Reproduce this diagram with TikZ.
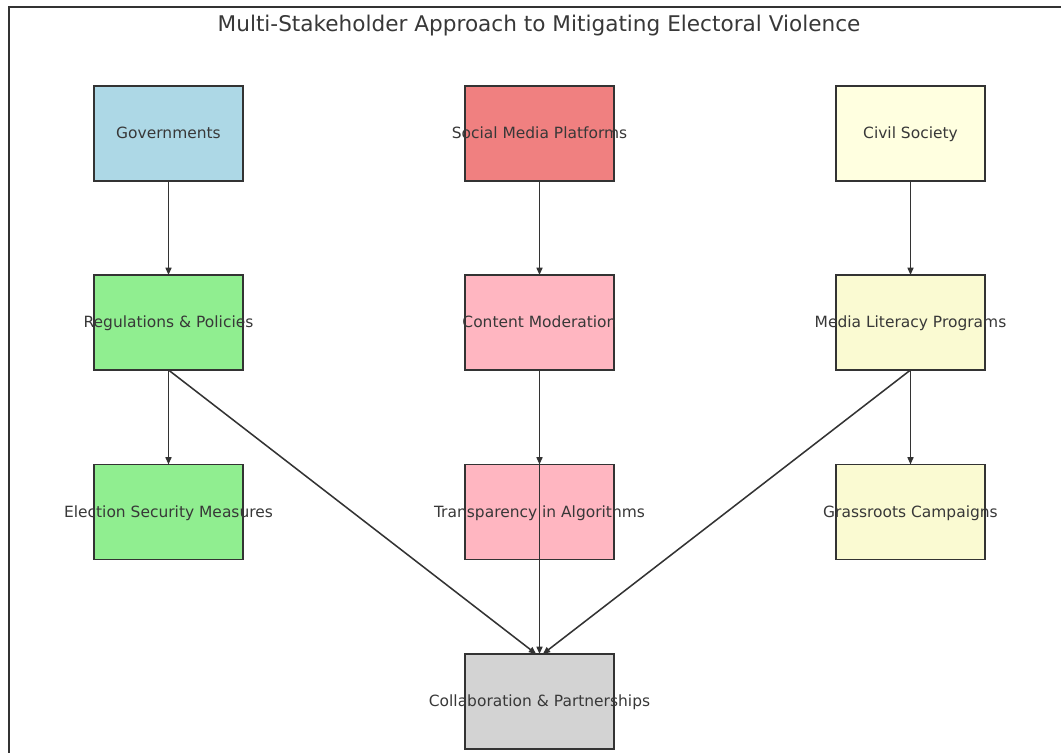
\documentclass[tikz,border=0pt]{standalone}
\usepackage{fontspec}
\setmainfont{DejaVu Sans}
\usetikzlibrary{arrows.meta}
\definecolor{cBlue}{HTML}{ADD8E6}
\definecolor{cCoral}{HTML}{F08080}
\definecolor{cYellow}{HTML}{FFFFE0}
\definecolor{cGreen}{HTML}{90EE90}
\definecolor{cPink}{HTML}{FFB6C1}
\definecolor{cGold}{HTML}{FAFAD2}
\definecolor{cGray}{HTML}{D3D3D3}
\definecolor{cLine}{HTML}{333333}
\tikzset{
  box/.style={draw=cLine, line width=1.05pt, minimum width=111.75pt, minimum height=71.25pt, inner sep=0pt, outer sep=0pt},
  lbl/.style={text=black!78, font=\fontsize{11.6}{13}\selectfont, inner sep=0pt, text height=10pt, text depth=2.4pt},
  arr/.style={draw=cLine, line width=1.15pt, -{Triangle[length=5.5pt,width=4.5pt]}},
  frame/.style={draw=cLine, line width=1.5pt}
}
\begin{document}
\begin{tikzpicture}[x=0.75pt, y=-0.75pt]
\useasboundingbox (0,0) rectangle (1061,753);
\fill[white] (0,0) rectangle (1061,753);
\draw[frame] (9,753) -- (9,7) -- (1061,7);
\node[text=black!78, font=\fontsize{16.2}{18}\selectfont] (title) at (539,26) {Multi-Stakeholder Approach to Mitigating Electoral Violence};
% boxes
\node[box, fill=cBlue]   (gov)  at (168.5,133.5) {};
\node[box, fill=cCoral]  (smp)  at (539.5,133.5) {};
\node[box, fill=cYellow] (civ)  at (910.5,133.5) {};
\node[box, fill=cGreen]  (reg)  at (168.5,322.5) {};
\node[box, fill=cPink]   (mod)  at (539.5,322.5) {};
\node[box, fill=cGold]   (mlp)  at (910.5,322.5) {};
\node[box, fill=cGreen]  (sec)  at (168.5,512) {};
\node[box, fill=cPink]   (tra)  at (539.5,512) {};
\node[box, fill=cGold]   (gra)  at (910.5,512) {};
\node[box, fill=cGray]   (col)  at (539.5,701.5) {};
% connectors
\draw[arr] (gov.south) -- (reg.north);
\draw[arr] (smp.south) -- (mod.north);
\draw[arr] (civ.south) -- (mlp.north);
\draw[arr] (reg.south) -- (sec.north);
\draw[arr] (mod.south) -- (tra.north);
\draw[arr] (mlp.south) -- (gra.north);
\draw[arr] (reg.south) -- ([xshift=-2.5pt]col.north);
\draw[arr] (mod.south) -- (col.north);
\draw[arr] (mlp.south) -- ([xshift=2.5pt]col.north);
% labels
\node[lbl] (tgov) at (gov) {Governments};
\node[lbl] (tsmp) at (smp) {Social Media Platforms};
\node[lbl] (tciv) at (civ) {Civil Society};
\node[lbl] (treg) at (reg) {Regulations \& Policies};
\node[lbl] (tmod) at (mod) {Content Moderation};
\node[lbl] (tmlp) at (mlp) {Media Literacy Programs};
\node[lbl] (tsec) at (sec) {Election Security Measures};
\node[lbl] (ttra) at (tra) {Transparency in Algorithms};
\node[lbl] (tgra) at (gra) {Grassroots Campaigns};
\node[lbl] (tcol) at (col) {Collaboration \& Partnerships};
\end{tikzpicture}
\end{document}
